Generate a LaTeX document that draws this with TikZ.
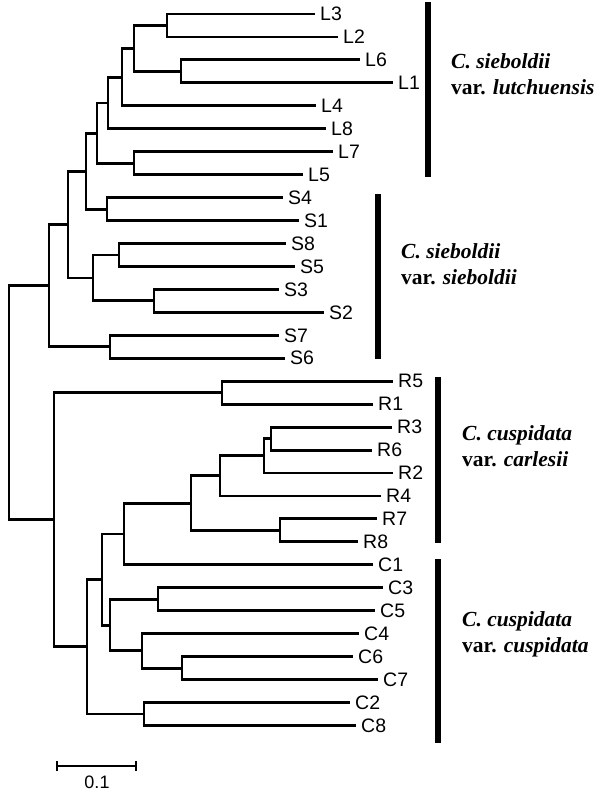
\documentclass[tikz,border=0pt]{standalone}
\usepackage{fontspec}
\newfontfamily\leaffont{Liberation Sans}
\newfontfamily\grpfont{Liberation Serif}
\begin{document}
\begin{tikzpicture}[x=1pt,y=-1pt,
  tree/.style={line width=2.9pt},
  groupbar/.style={line width=6.5pt},
  leaflab/.style={anchor=west,inner sep=0pt,xshift=5pt,font=\leaffont\fontsize{19.5}{23}\selectfont},
  grplab/.style={anchor=base west,inner sep=0pt,font=\grpfont\bfseries\fontsize{21.5}{26}\selectfont},
  scalelab/.style={inner sep=0pt,font=\leaffont\fontsize{18}{21}\selectfont}]
\useasboundingbox (0,0) rectangle (600,793);
% leaves: name / end x / index
\foreach \n/\x/\i in {L3/315/0,L2/338/1,L6/360/2,L1/393/3,L4/316/4,L8/326/5,L7/333/6,L5/303/7,
  S4/283/8,S1/299/9,S8/286/10,S5/295/11,S3/279/12,S2/324/13,S7/279/14,S6/285/15,
  R5/393/16,R1/373/17,R3/392/18,R6/372/19,R2/393/20,R4/381/21,R7/377/22,R8/358/23,
  C1/373/24,C3/383/25,C5/375/26,C4/359/27,C6/353/28,C7/378/29,C2/350/30,C8/356/31}{
  \coordinate (\n) at (\x,{14+22.95*\i});
  \node[leaflab] (lab\n) at (\n) {\n};
}
% internal nodes
\coordinate (a) at (167,25.5);
\coordinate (b) at (181,71.4);
\coordinate (c) at (134,48.5);
\coordinate (d) at (122,77.2);
\coordinate (e) at (108,103.0);
\coordinate (f) at (134,163.2);
\coordinate (g) at (97,133.1);
\coordinate (h) at (107,209.1);
\coordinate (k) at (86,171.1);
\coordinate (m) at (119,255.0);
\coordinate (n) at (154,300.9);
\coordinate (o) at (93,278.0);
\coordinate (p) at (68,224.5);
\coordinate (q) at (110,346.8);
\coordinate (r) at (49,285.7);
\coordinate (s) at (222,392.7);
\coordinate (t) at (271,438.6);
\coordinate (u) at (264,455.8);
\coordinate (v) at (220,475.9);
\coordinate (w) at (280,530.4);
\coordinate (z) at (191,503.2);
\coordinate (aa) at (124,534.0);
\coordinate (bb) at (158,599.3);
\coordinate (cc) at (182,668.1);
\coordinate (dd) at (142,650.9);
\coordinate (ee) at (110,625.1);
\coordinate (ff) at (102,579.6);
\coordinate (gg) at (144,714.0);
\coordinate (hh) at (87,646.8);
\coordinate (ii) at (54,519.8);
\coordinate (root) at (9,402.7);
% edges parent -> child
\foreach \pa/\ch in {a/L3,a/L2,b/L6,b/L1,c/a,c/b,d/c,d/L4,e/d,e/L8,f/L7,f/L5,g/e,g/f,
  h/S4,h/S1,k/g,k/h,m/S8,m/S5,n/S3,n/S2,o/m,o/n,p/k,p/o,q/S7,q/S6,r/p,r/q,
  s/R5,s/R1,t/R3,t/R6,u/t,u/R2,v/u,v/R4,w/R7,w/R8,z/v,z/w,aa/z,aa/C1,
  bb/C3,bb/C5,cc/C6,cc/C7,dd/C4,dd/cc,ee/bb,ee/dd,ff/aa,ff/ee,gg/C2,gg/C8,
  hh/ff,hh/gg,ii/s,ii/hh,root/r,root/ii}{
  \draw[tree] (\pa) |- (\ch);
}
% group bars
\coordinate (barLt) at (428,2);   \coordinate (barLb) at (428,177);
\coordinate (barSt) at (378,194); \coordinate (barSb) at (378,359);
\coordinate (barRt) at (438,377); \coordinate (barRb) at (438,543);
\coordinate (barCt) at (438,559); \coordinate (barCb) at (438,743);
\draw[groupbar] (barLt) -- (barLb);
\draw[groupbar] (barSt) -- (barSb);
\draw[groupbar] (barRt) -- (barRb);
\draw[groupbar] (barCt) -- (barCb);
% group labels
\node[grplab] (gL1) at (451,68) {\textit{C. sieboldii}};
\node[grplab] (gL2) at (451,94) {var. \textit{lutchuensis}};
\node[grplab] (gS1) at (401,258) {\textit{C. sieboldii}};
\node[grplab] (gS2) at (401,284) {var. \textit{sieboldii}};
\node[grplab] (gR1) at (462,440) {\textit{C. cuspidata}};
\node[grplab] (gR2) at (462,466) {var. \textit{carlesii}};
\node[grplab] (gC1) at (462,626) {\textit{C. cuspidata}};
\node[grplab] (gC2) at (462,652) {var. \textit{cuspidata}};
% scale bar
\coordinate (sbl) at (57,766);
\coordinate (sbr) at (136,766);
\draw[line width=2pt] (sbl) -- (sbr);
\draw[line width=2pt] ([yshift=-5]sbl) -- ([yshift=5]sbl);
\draw[line width=2pt] ([yshift=-5]sbr) -- ([yshift=5]sbr);
\node[scalelab] (sblab) at (97,782) {0.1};
\end{tikzpicture}
\end{document}
